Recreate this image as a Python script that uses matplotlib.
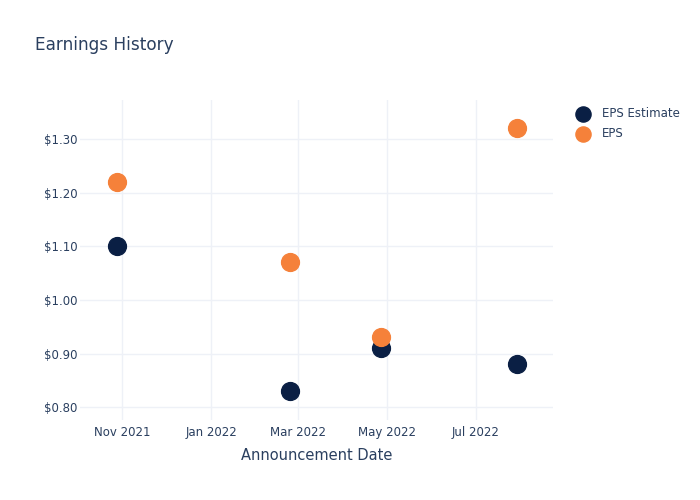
import matplotlib.pyplot as plt
import matplotlib.dates as mdates
import pandas as pd

# Earnings history data
dates = pd.to_datetime(['2021-10-28', '2022-02-24', '2022-04-27', '2022-07-29'])
eps_estimate = [1.10, 0.83, 0.91, 0.88]
eps_actual = [1.22, 1.07, 0.93, 1.32]
tick_dates = pd.to_datetime(['2021-11-01', '2022-01-01', '2022-03-01', '2022-05-01', '2022-07-01'])
tick_labels = ['Nov 2021', 'Jan 2022', 'Mar 2022', 'May 2022', 'Jul 2022']
y_ticks = [0.80, 0.90, 1.00, 1.10, 1.20, 1.30]

text_color = '#2a3f5f'
grid_color = '#eef1f7'

fig = plt.figure(figsize=(7, 5), dpi=100)
ax = fig.add_axes([0.1143, 0.16, 0.676, 0.64])

ax.scatter(dates, eps_estimate, s=165, color='#0a1f44', label='EPS Estimate', zorder=3)
ax.scatter(dates, eps_actual, s=165, color='#f5813a', label='EPS', zorder=3)

ax.set_xlim(pd.Timestamp('2021-10-03'), pd.Timestamp('2022-08-23'))
ax.set_ylim(0.776, 1.373)
ax.set_xticks(tick_dates)
ax.set_xticklabels(tick_labels)
ax.set_yticks(y_ticks)
ax.set_yticklabels([f'${v:.2f}' for v in y_ticks])

ax.grid(True, color=grid_color, linewidth=1)
ax.set_axisbelow(True)
for s in ax.spines.values():
    s.set_visible(False)
ax.tick_params(length=0, labelsize=8.5, colors=text_color)
ax.tick_params(axis='x', pad=4)
ax.tick_params(axis='y', pad=2)

ax.set_xlabel('Announcement Date', fontsize=10.5, color=text_color, labelpad=7)
fig.text(0.05, 0.911, 'Earnings History', fontsize=12.2, color=text_color, va='center')

ax.legend(loc='upper left', bbox_to_anchor=(0.809, 0.796), bbox_transform=fig.transFigure,
          frameon=False, fontsize=8.5, labelcolor=text_color, handletextpad=0.6,
          labelspacing=0.6, borderaxespad=0, markerscale=0.85)

fig.savefig('out.png', dpi=100)
